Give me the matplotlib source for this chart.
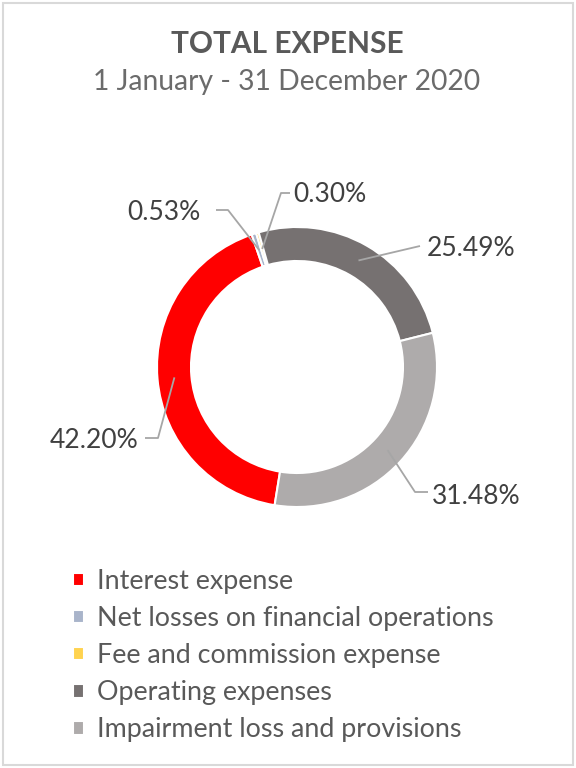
import matplotlib
matplotlib.use("Agg")
import matplotlib.pyplot as plt
from matplotlib.patches import Rectangle
import numpy as np

# ---- data ----
categories = ["Interest expense", "Net losses on financial operations",
              "Fee and commission expense", "Operating expenses",
              "Impairment loss and provisions"]
shares = [42.20, 0.53, 0.30, 25.49, 31.48]
labels = ["42.20%", "0.53%", "0.30%", "25.49%", "31.48%"]
colors = ["#FF0000", "#A9B4CA", "#FFD34F", "#767171", "#AEABAB"]
title = "TOTAL EXPENSE"
subtitle = "1 January - 31 December 2020"

FONT = "Lato"
W, H = 576, 768
fig = plt.figure(figsize=(W / 100, H / 100), dpi=100)
ax = fig.add_axes([0, 0, 1, 1])

def Y(y):
    return H - y

cx, cy = 297, Y(367)
R, ring = 140, 34
first_angle = 189.2  # clockwise from 12 o'clock where first slice starts

wedges, _ = ax.pie(shares, colors=colors, startangle=90 - first_angle,
                   counterclock=False, radius=R, center=(cx, cy),
                   wedgeprops=dict(width=ring, edgecolor="white", linewidth=1.5))
ax.set_xlim(0, W)
ax.set_ylim(0, H)
ax.set_aspect("equal")
ax.axis("off")

# label layout: (text x, text y, ha, path points after anchor) in image coords
layout = [
    (138, 440, "right", [(158, 438), (145, 438)]),
    (201, 212, "right", [(228, 210), (216, 210)]),
    (293, 195, "left", [(281, 193), (290, 193)]),
    (427, 248, "left", [(420, 246)]),
    (432, 497, "left", [(415, 492), (428, 492)]),
]
rmid = R - ring / 2
for w, lab, (tx, ty, ha, pts) in zip(wedges, labels, layout):
    mid = np.deg2rad((w.theta1 + w.theta2) / 2)
    ax_ = cx + rmid * np.cos(mid)
    ay_ = cy + rmid * np.sin(mid)
    xs = [ax_] + [p[0] for p in pts]
    ys = [ay_] + [Y(p[1]) for p in pts]
    ax.plot(xs, ys, color="#A6A6A6", lw=1.3, solid_capstyle="butt", zorder=3)
    ax.text(tx, Y(ty), lab, ha=ha, va="center", fontsize=19, color="#404040",
            family=FONT)

ax.text(287, Y(44), title, ha="center", va="center", fontsize=21.5,
        fontweight="bold", color="#595959", family=FONT)
ax.text(287, Y(82), subtitle, ha="center", va="center", fontsize=20.3,
        color="#6B6B6B", family=FONT)

leg = ax.legend(wedges, categories, loc="upper left",
                bbox_to_anchor=(73 / W, 1 - 569 / H), frameon=False,
                prop=dict(family=FONT, size=19.4), labelcolor="#595959",
                handlelength=0.4, handleheight=0.4, handletextpad=0.5,
                labelspacing=0.45, borderpad=0, borderaxespad=0)

fig.patches.append(Rectangle((3 / W, 3 / H), 1 - 6 / W, 1 - 6 / H,
                             transform=fig.transFigure, fill=False,
                             edgecolor="#D9D9D9", lw=1.5))
fig.savefig("out.png", dpi=100, facecolor="white")
